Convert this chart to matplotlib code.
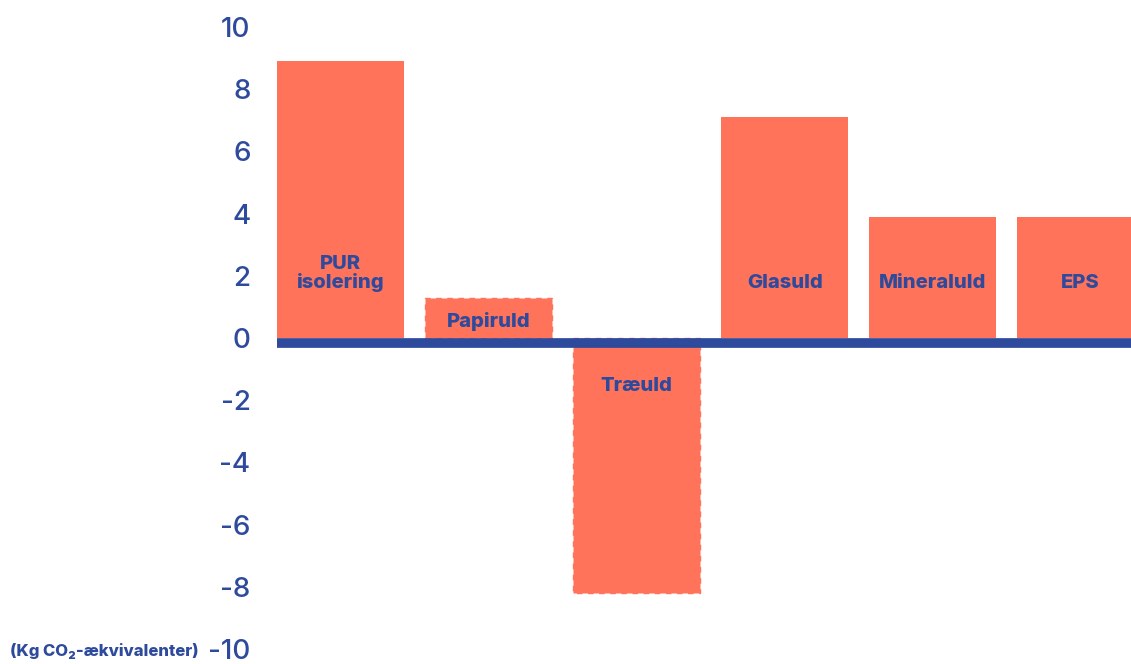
import matplotlib.pyplot as plt
import numpy as np

# CO2-aftryk for isoleringsmaterialer
materialer = ['PUR\nisolering', 'Papiruld', 'Træuld', 'Glasuld', 'Mineraluld', 'EPS']
co2 = [8.9, 1.3, -8.2, 7.1, 3.9, 3.9]
stiplet = [False, True, True, False, False, False]
yticks = [10, 8, 6, 4, 2, 0, -2, -4, -6, -8, -10]

blaa = '#2e4a9c'
koral = '#ff735a'

plt.rcParams['font.family'] = ['Inter', 'DejaVu Sans']
plt.rcParams['axes.unicode_minus'] = False

fig = plt.figure(figsize=(11.31, 6.64), dpi=100)
ax = fig.add_axes([277 / 1131, 15 / 664, 1 - 277 / 1131, (649 - 27) / 664])

x = np.arange(len(materialer))
bars = ax.bar(x, co2, width=0.86, color=koral, linewidth=0, zorder=2)

# svag stiplet kant paa de to traebaserede materialer
for b, s in zip(bars, stiplet):
    if s:
        b.set_edgecolor(koral)
        b.set_linestyle((0, (4, 4)))
        b.set_linewidth(1.0)

# nullinjen
ax.axhline(-0.15, color=blaa, linewidth=7, zorder=3)

# tekst i soejlerne
for xi, v, navn in zip(x, co2, materialer):
    if v > 2:
        y = 1.6
    elif v > 0:
        y = 0.35
    else:
        y = -1.7
    ax.text(xi, y, navn, ha='center', va='baseline', color=blaa,
            fontsize=14.5, fontweight='heavy', linespacing=1.0, zorder=4)

ax.set_xlim(-0.43, 5.34)
ax.set_ylim(-10, 10)
ax.set_yticks(yticks)
ax.set_xticks([])
ax.tick_params(axis='y', length=0, pad=19, labelsize=20, labelcolor=blaa)
for lbl in ax.get_yticklabels():
    lbl.set_fontweight('medium')
for side in ax.spines.values():
    side.set_visible(False)

fig.text(10 / 1131, 1 - 651 / 664, '(Kg CO₂-ækvivalenter)', ha='left', va='center',
         color=blaa, fontsize=12, fontweight='heavy')

fig.savefig('out.png', dpi=100)
